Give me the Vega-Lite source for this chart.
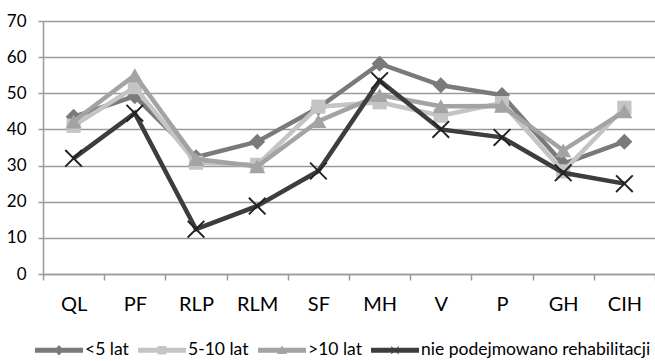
{
  "$schema": "https://vega.github.io/schema/vega-lite/v6.json",
  "width": 612,
  "height": 253,
  "autosize": {"type": "none"},
  "padding": {"left": 43, "top": 21, "right": 0, "bottom": 87},
  "background": "white",
  "config": {"view": {"stroke": null}},
  "data": {
    "values": [
      {"series": "<5 lat", "cat": "QL", "value": 43.5},
      {"series": "<5 lat", "cat": "PF", "value": 49.2},
      {"series": "<5 lat", "cat": "RLP", "value": 32.3},
      {"series": "<5 lat", "cat": "RLM", "value": 36.6},
      {"series": "<5 lat", "cat": "SF", "value": 46},
      {"series": "<5 lat", "cat": "MH", "value": 58.2},
      {"series": "<5 lat", "cat": "V", "value": 52.2},
      {"series": "<5 lat", "cat": "P", "value": 49.5},
      {"series": "<5 lat", "cat": "GH", "value": 30.5},
      {"series": "<5 lat", "cat": "CIH", "value": 36.6},
      {"series": "5-10 lat", "cat": "QL", "value": 41},
      {"series": "5-10 lat", "cat": "PF", "value": 51.7},
      {"series": "5-10 lat", "cat": "RLP", "value": 30.8},
      {"series": "5-10 lat", "cat": "RLM", "value": 30.2},
      {"series": "5-10 lat", "cat": "SF", "value": 46.3},
      {"series": "5-10 lat", "cat": "MH", "value": 47.5},
      {"series": "5-10 lat", "cat": "V", "value": 43.8},
      {"series": "5-10 lat", "cat": "P", "value": 47.3},
      {"series": "5-10 lat", "cat": "GH", "value": 28.4},
      {"series": "5-10 lat", "cat": "CIH", "value": 46},
      {"series": ">10 lat", "cat": "QL", "value": 42.2},
      {"series": ">10 lat", "cat": "PF", "value": 55},
      {"series": ">10 lat", "cat": "RLP", "value": 31.8},
      {"series": ">10 lat", "cat": "RLM", "value": 29.8},
      {"series": ">10 lat", "cat": "SF", "value": 42.3},
      {"series": ">10 lat", "cat": "MH", "value": 49.5},
      {"series": ">10 lat", "cat": "V", "value": 46.4},
      {"series": ">10 lat", "cat": "P", "value": 46.5},
      {"series": ">10 lat", "cat": "GH", "value": 34.2},
      {"series": ">10 lat", "cat": "CIH", "value": 45},
      {"series": "nie podejmowano rehabilitacji", "cat": "QL", "value": 32},
      {"series": "nie podejmowano rehabilitacji", "cat": "PF", "value": 44.5},
      {"series": "nie podejmowano rehabilitacji", "cat": "RLP", "value": 12.4},
      {"series": "nie podejmowano rehabilitacji", "cat": "RLM", "value": 18.8},
      {"series": "nie podejmowano rehabilitacji", "cat": "SF", "value": 28.5},
      {"series": "nie podejmowano rehabilitacji", "cat": "MH", "value": 53.5},
      {"series": "nie podejmowano rehabilitacji", "cat": "V", "value": 40},
      {"series": "nie podejmowano rehabilitacji", "cat": "P", "value": 37.8},
      {"series": "nie podejmowano rehabilitacji", "cat": "GH", "value": 28},
      {"series": "nie podejmowano rehabilitacji", "cat": "CIH", "value": 25}
    ]
  },
  "encoding": {
    "x": {
      "field": "cat",
      "type": "nominal",
      "sort": ["QL", "PF", "RLP", "RLM", "SF", "MH", "V", "P", "GH", "CIH"],
      "scale": {"type": "band", "paddingInner": 0, "paddingOuter": 0},
      "axis": {
        "title": null,
        "labelAngle": 0,
        "tickBand": "extent",
        "grid": false,
        "tickSize": 6,
        "tickWidth": 1.5,
        "tickColor": "#9a9a9a",
        "domainColor": "#9a9a9a",
        "domainWidth": 1.5,
        "labelFont": "Lato",
        "labelFontSize": 20,
        "labelColor": "black",
        "labelPadding": 14
      }
    },
    "y": {
      "field": "value",
      "type": "quantitative",
      "scale": {"domain": [0, 70], "nice": false},
      "axis": {
        "title": null,
        "values": [0, 10, 20, 30, 40, 50, 60, 70],
        "grid": true,
        "gridColor": "#9a9a9a",
        "gridWidth": 1.5,
        "tickSize": 5,
        "tickWidth": 1.5,
        "tickColor": "#9a9a9a",
        "domainColor": "#9a9a9a",
        "domainWidth": 1.5,
        "labelFont": "Lato",
        "labelFontSize": 17,
        "labelColor": "black",
        "labelPadding": 12
      }
    }
  },
  "layer": [
    {
      "transform": [{"filter": "datum.series === '<5 lat'"}],
      "mark": {"type": "line", "color": "#7a7a7a", "strokeWidth": 4.5},
      "encoding": {}
    },
    {
      "transform": [{"filter": "datum.series === '<5 lat'"}],
      "mark": {"type": "point", "shape": "diamond", "filled": true, "color": "#7a7a7a", "opacity": 1, "size": 256},
      "encoding": {}
    },
    {
      "transform": [{"filter": "datum.series === '5-10 lat'"}],
      "mark": {"type": "line", "color": "#c4c4c4", "strokeWidth": 4.5},
      "encoding": {}
    },
    {
      "transform": [{"filter": "datum.series === '5-10 lat'"}],
      "mark": {"type": "point", "shape": "square", "filled": true, "color": "#c4c4c4", "opacity": 1, "size": 200},
      "encoding": {}
    },
    {
      "transform": [{"filter": "datum.series === '>10 lat'"}],
      "mark": {"type": "line", "color": "#a3a3a3", "strokeWidth": 4.5},
      "encoding": {}
    },
    {
      "transform": [{"filter": "datum.series === '>10 lat'"}],
      "mark": {"type": "point", "shape": "triangle-up", "filled": true, "color": "#a3a3a3", "opacity": 1, "size": 256},
      "encoding": {}
    },
    {
      "transform": [{"filter": "datum.series === 'nie podejmowano rehabilitacji'"}],
      "mark": {"type": "line", "color": "#3d3d3d", "strokeWidth": 4.5},
      "encoding": {}
    },
    {
      "transform": [{"filter": "datum.series === 'nie podejmowano rehabilitacji'"}],
      "mark": {
        "type": "point",
        "shape": "M-1,-0.85L-0.85,-1L0,-0.15L0.85,-1L1,-0.85L0.15,0L1,0.85L0.85,1L0,0.15L-0.85,1L-1,0.85L-0.15,0Z",
        "filled": true,
        "color": "#222222",
        "opacity": 1,
        "size": 324
      },
      "encoding": {}
    },
    {
      "data": {"values": []},
      "mark": {"type": "point", "filled": true, "opacity": 1, "strokeWidth": 0},
      "encoding": {
        "color": {
          "field": "series",
          "type": "nominal",
          "scale": {
            "domain": ["<5 lat", "5-10 lat", ">10 lat", "nie podejmowano rehabilitacji"],
            "range": ["#7a7a7a", "#c4c4c4", "#a3a3a3", "#3d3d3d"]
          },
          "legend": {
            "title": null,
            "orient": "none",
            "legendX": -8,
            "legendY": 305,
            "direction": "horizontal",
            "padding": 0,
            "symbolSize": 2304,
            "symbolStrokeWidth": 0,
            "symbolOpacity": 1,
            "labelFont": "Lato",
            "labelFontSize": 17.5,
            "labelColor": "black",
            "labelOffset": 2,
            "labelLimit": 400,
            "columnPadding": 9
          }
        },
        "shape": {
          "field": "series",
          "type": "nominal",
          "scale": {
            "domain": ["<5 lat", "5-10 lat", ">10 lat", "nie podejmowano rehabilitacji"],
            "range": [
              "M-1,-0.1H1V0.1H-1Z M0,-0.22L0.2,0L0,0.22L-0.2,0Z",
              "M-1,-0.1H1V0.1H-1Z M-0.18,-0.18H0.18V0.18H-0.18Z",
              "M-1,-0.1H1V0.1H-1Z M0,-0.2L0.21,0.16H-0.21Z",
              "M-1,-0.1H1V0.1H-1Z M-0.17,-0.145L-0.145,-0.17L0,-0.025L0.145,-0.17L0.17,-0.145L0.025,0L0.17,0.145L0.145,0.17L0,0.025L-0.145,0.17L-0.17,0.145L-0.025,0Z"
            ]
          },
          "legend": {
            "title": null,
            "orient": "none",
            "legendX": -8,
            "legendY": 305,
            "direction": "horizontal",
            "padding": 0,
            "symbolSize": 2304,
            "symbolStrokeWidth": 0,
            "symbolOpacity": 1,
            "labelFont": "Lato",
            "labelFontSize": 17.5,
            "labelColor": "black",
            "labelOffset": 2,
            "labelLimit": 400,
            "columnPadding": 9
          }
        }
      }
    }
  ]
}
